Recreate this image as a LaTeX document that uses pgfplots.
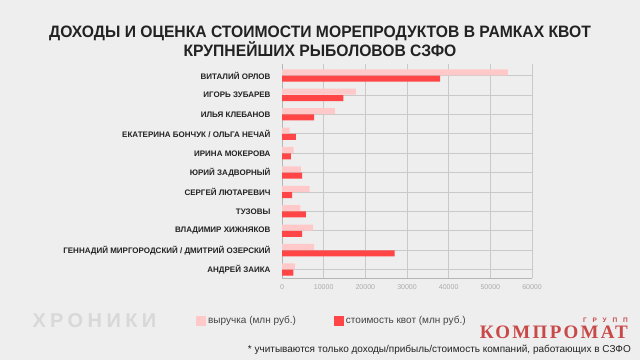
\documentclass[border=0pt]{standalone}
\usepackage{pgfplots}
\pgfplotsset{compat=1.18}
\usepackage{fontspec}
\setmainfont{Liberation Sans}
\newfontfamily\titlefont[FakeStretch=0.95]{Liberation Sans}
\newfontfamily\logofont[LetterSpace=22]{Liberation Sans}
\newfontfamily\kompfont[LetterSpace=12]{Liberation Serif}
\newfontfamily\gruppfont[LetterSpace=90]{Liberation Sans}
\definecolor{bg}{HTML}{EEEEEE}
\definecolor{lightbar}{HTML}{FFC9C9}
\definecolor{redbar}{HTML}{FF4545}
\definecolor{gridc}{HTML}{C9C9C9}
\definecolor{tickc}{HTML}{ABABAB}
\definecolor{labc}{HTML}{222222}
\definecolor{kompc}{HTML}{C94848}
\definecolor{logoc}{HTML}{D8D8D8}
\pgfplotstableread{
y rev cost
0 3100 2700
1 7700 27000
2 7450 4800
3 4400 5700
4 6650 2400
5 4550 4800
6 2800 2100
7 1850 3300
8 12700 7700
9 17700 14700
10 54200 37950
}\datatable
\begin{document}
\begin{tikzpicture}
\fill[bg] (0,0) rectangle (640bp,360bp);
\useasboundingbox (0,0) rectangle (640bp,360bp);
\node[font=\titlefont\fontsize{16.5bp}{19.5bp}\selectfont\bfseries, text=labc, align=center] at (320bp,318.5bp)
 {ДОХОДЫ И ОЦЕНКА СТОИМОСТИ МОРЕПРОДУКТОВ В РАМКАХ КВОТ\\КРУПНЕЙШИХ РЫБОЛОВОВ СЗФО};
\begin{axis}[
  at={(282bp,81.6bp)}, anchor=south west,
  scale only axis, width=250bp, height=214.4bp,
  xmin=0, xmax=60000, ymin=-0.45, ymax=10.6,
  xtick={0,10000,20000,30000,40000,50000,60000},
  ytick={0,...,10},
  yticklabels={АНДРЕЙ ЗАИКА,ГЕННАДИЙ МИРГОРОДСКИЙ / ДМИТРИЙ ОЗЕРСКИЙ,ВЛАДИМИР ХИЖНЯКОВ,ТУЗОВЫ,СЕРГЕЙ ЛЮТАРЕВИЧ,ЮРИЙ ЗАДВОРНЫЙ,ИРИНА МОКЕРОВА,ЕКАТЕРИНА БОНЧУК / ОЛЬГА НЕЧАЙ,ИЛЬЯ КЛЕБАНОВ,ИГОРЬ ЗУБАРЕВ,ВИТАЛИЙ ОРЛОВ},
  /pgf/number format/assume math mode=true,
  /pgf/number format/1000 sep={},
  scaled x ticks=false,
  major tick length=0pt,
  axis x line*=bottom, axis y line*=left,
  axis line style={gridc!90!black, line width=0.8bp, -},
  xmajorgrids, ymajorgrids,
  grid style={gridc, line width=0.8bp},
  xticklabel style={font=\fontsize{7bp}{8bp}\selectfont, text=tickc, yshift=-3bp},
  yticklabel style={font=\fontsize{8bp}{9bp}\selectfont\bfseries, text=labc, xshift=-8bp},
  legend style={at={(-0.356,-0.199)}, anchor=west, draw=none, fill=none,
    legend columns=2, font=\fontsize{10bp}{11bp}\selectfont, text=labc!85!white,
    /tikz/every even column/.append style={column sep=36bp}},
  legend image code/.code={\fill[#1] (0bp,-5bp) rectangle (10bp,5bp);},
]
\addplot[xbar, bar width=6bp, bar shift=3.3bp, fill=lightbar, draw=none] table[x=rev, y=y] {\datatable};
\addlegendentry{выручка (млн руб.)}
\addplot[xbar, bar width=6bp, bar shift=-3bp, fill=redbar, draw=none] table[x=cost, y=y] {\datatable};
\addlegendentry{стоимость квот (млн руб.)}
\end{axis}
\node[font=\logofont\fontsize{20bp}{22bp}\selectfont\bfseries, text=logoc, anchor=west] at (29bp,39bp) {ХРОНИКИ};
\node[font=\kompfont\fontsize{19bp}{20bp}\selectfont\bfseries, text=kompc, anchor=east, inner sep=0pt] at (628bp,28bp) {КОМПРОМАТ};
\node[font=\gruppfont\fontsize{6.5bp}{7bp}\selectfont\bfseries, text=kompc, anchor=east, inner sep=0pt] at (628bp,39.5bp) {ГРУПП};
\node[font=\fontsize{10bp}{11bp}\selectfont, text=labc, anchor=east, inner sep=0pt] at (631bp,10.3bp) {* учитываются только доходы/прибыль/стоимость компаний, работающих в СЗФО};
\end{tikzpicture}
\end{document}
